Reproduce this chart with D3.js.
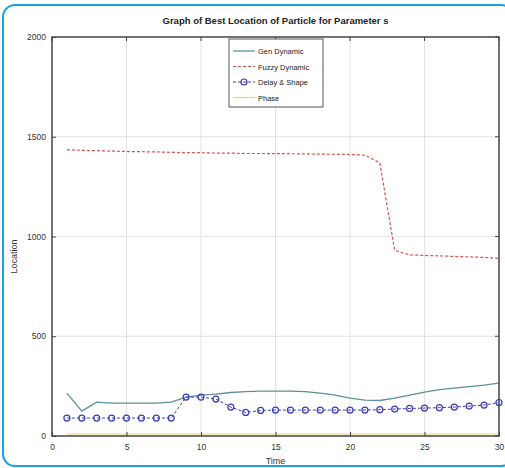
<!DOCTYPE html>
<html>
<head>
<meta charset="utf-8">
<script src="https://cdn.jsdelivr.net/npm/d3@7"></script>
<style>
  html, body { margin: 0; padding: 0; background: #fff; }
  svg { display: block; font-family: "Liberation Sans", Arial, sans-serif; }
</style>
</head>
<body>
<div id="chart"></div>
<script>
(function () {
  "use strict";

  // --- Data ---
  const time = d3.range(1, 31);
  const genDynamic = [215, 125, 170, 165, 165, 165, 165, 170, 195, 205, 210, 218, 222, 225, 225,
    225, 222, 215, 205, 190, 180, 178, 190, 205, 220, 232, 240, 248, 255, 265];
  const fuzzyDynamic = [1435, 1432, 1430, 1428, 1426, 1425, 1424, 1422, 1420, 1420, 1418, 1418, 1416, 1416, 1415,
    1415, 1414, 1413, 1412, 1411, 1408, 1370, 930, 908, 905, 903, 900, 898, 895, 890];
  const delayShape = [90, 90, 90, 90, 90, 90, 90, 90, 195, 195, 185, 145, 118, 128, 130,
    130, 130, 130, 130, 130, 130, 132, 135, 138, 140, 142, 145, 150, 155, 168];
  const phase = [10, 10, 10, 10, 10, 10, 10, 10, 10, 10, 10, 10, 10, 10, 10,
    10, 10, 10, 10, 10, 10, 10, 10, 10, 10, 10, 10, 10, 10, 10];

  const xTicks = [0, 5, 10, 15, 20, 25, 30];
  const yTicks = [0, 500, 1000, 1500, 2000];
  const seriesNames = ["Gen Dynamic", "Fuzzy Dynamic", "Delay & Shape", "Phase"];

  const W = 505, H = 468;
  const margin = { top: 37, right: 6, bottom: 32, left: 52 };

  const svg = d3.select("#chart").append("svg").attr("width", W).attr("height", H);

  // outer rounded frame
  svg.append("rect")
    .attr("x", 3).attr("y", 5).attr("width", 510).attr("height", 461)
    .attr("rx", 12).attr("fill", "none")
    .attr("stroke", "#19a3e6").attr("stroke-width", 2);

  const x = d3.scaleLinear().domain([0, 30]).range([margin.left, W - margin.right]);
  const y = d3.scaleLinear().domain([0, 2000]).range([H - margin.bottom, margin.top]);

  // --- Grid ---
  const grid = svg.append("g").attr("stroke", "#e2e2e2").attr("stroke-width", 1);
  grid.selectAll(".vg").data(xTicks.slice(1, -1)).join("line")
    .attr("x1", (d) => x(d)).attr("x2", (d) => x(d))
    .attr("y1", y(0)).attr("y2", y(2000));
  grid.selectAll(".hg").data(yTicks.slice(1, -1)).join("line")
    .attr("x1", x(0)).attr("x2", x(30))
    .attr("y1", (d) => y(d)).attr("y2", (d) => y(d));

  // --- Series ---
  const rows = time.map((t, i) => ({
    t, gen: genDynamic[i], fuzzy: fuzzyDynamic[i], delay: delayShape[i], phase: phase[i],
  }));
  const lineOf = (key) => d3.line().x((d) => x(d.t)).y((d) => y(d[key]));

  const styles = [
    { key: "gen", color: "#5f8f9a", dash: null, width: 1.3 },
    { key: "fuzzy", color: "#d9534f", dash: "3,2", width: 1.2 },
    { key: "delay", color: "#3a3ab8", dash: "3,2", width: 1 },
    { key: "phase", color: "#f0cf78", dash: null, width: 1.2 },
  ];

  const plot = svg.append("g");
  for (const s of styles) {
    plot.append("path")
      .datum(rows)
      .attr("fill", "none")
      .attr("stroke", s.color)
      .attr("stroke-width", s.width)
      .attr("stroke-dasharray", s.dash)
      .attr("d", lineOf(s.key));
  }

  plot.selectAll(".mk").data(rows).join("circle")
    .attr("cx", (d) => x(d.t)).attr("cy", (d) => y(d.delay))
    .attr("r", 3).attr("fill", "none")
    .attr("stroke", "#3a3ab8").attr("stroke-width", 1.2);

  // --- Axes box + ticks ---
  const axisColor = "#444";
  svg.append("rect")
    .attr("x", x(0)).attr("y", y(2000))
    .attr("width", x(30) - x(0)).attr("height", y(0) - y(2000))
    .attr("fill", "none").attr("stroke", axisColor).attr("stroke-width", 1.5);

  const xAxis = d3.axisBottom(x).tickValues(xTicks).tickFormat(d3.format("d")).tickSize(-4).tickPadding(8);
  const yAxis = d3.axisLeft(y).tickValues(yTicks).tickFormat(d3.format("d")).tickSize(-4).tickPadding(6);

  const gx = svg.append("g").attr("transform", `translate(0,${y(0)})`).call(xAxis);
  const gy = svg.append("g").attr("transform", `translate(${x(0)},0)`).call(yAxis);
  for (const g of [gx, gy]) {
    g.select(".domain").remove();
    g.selectAll("line").attr("stroke", axisColor);
    g.selectAll("text").attr("fill", "#333").attr("font-size", 8.5);
  }
  // mirrored ticks on top/right
  svg.append("g").selectAll("line").data(xTicks).join("line")
    .attr("x1", (d) => x(d)).attr("x2", (d) => x(d))
    .attr("y1", y(2000)).attr("y2", y(2000) + 4).attr("stroke", axisColor);
  svg.append("g").selectAll("line").data(yTicks).join("line")
    .attr("x1", x(30)).attr("x2", x(30) - 4)
    .attr("y1", (d) => y(d)).attr("y2", (d) => y(d)).attr("stroke", axisColor);

  // --- Labels ---
  svg.append("text")
    .attr("x", (x(0) + x(30)) / 2).attr("y", 24)
    .attr("text-anchor", "middle").attr("font-size", 9.5).attr("font-weight", "bold")
    .attr("fill", "#222")
    .text("Graph of Best Location of Particle for Parameter s");

  svg.append("text")
    .attr("x", (x(0) + x(30)) / 2).attr("y", 464)
    .attr("text-anchor", "middle").attr("font-size", 9).attr("fill", "#333")
    .text("Time");

  svg.append("text")
    .attr("transform", `translate(17,${(y(0) + y(2000)) / 2 + 20}) rotate(-90)`)
    .attr("text-anchor", "middle").attr("font-size", 9).attr("fill", "#333")
    .text("Location");

  // --- Legend ---
  const lg = svg.append("g").attr("transform", "translate(229,39)");
  lg.append("rect").attr("width", 94).attr("height", 68)
    .attr("fill", "#fff").attr("stroke", "#555").attr("stroke-width", 1);
  seriesNames.forEach((name, i) => {
    const s = styles[i];
    const yy = 12 + i * 15.5;
    lg.append("line")
      .attr("x1", 4).attr("x2", 26).attr("y1", yy).attr("y2", yy)
      .attr("stroke", s.color).attr("stroke-width", s.width)
      .attr("stroke-dasharray", s.dash);
    if (s.key === "delay") {
      lg.append("circle").attr("cx", 15).attr("cy", yy).attr("r", 3)
        .attr("fill", "none").attr("stroke", s.color).attr("stroke-width", 1.2);
    }
    lg.append("text").attr("x", 29).attr("y", yy + 3)
      .attr("font-size", 7.5).attr("fill", "#222").text(name);
  });
})();
</script>
</body>
</html>
